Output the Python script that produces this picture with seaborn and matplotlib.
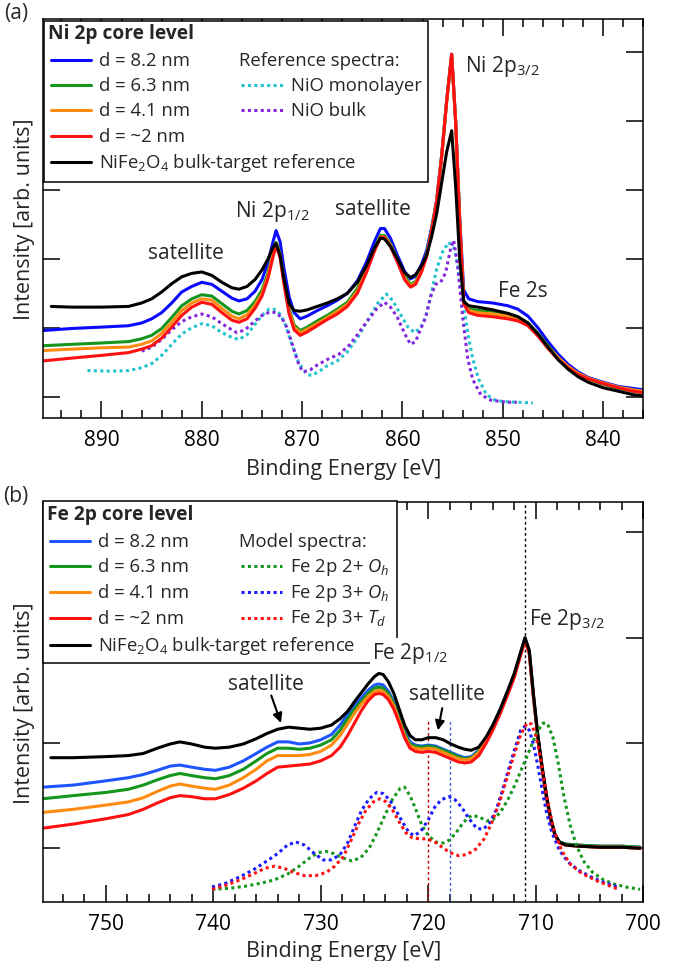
import matplotlib
matplotlib.use("Agg")
import matplotlib.pyplot as plt
from matplotlib.lines import Line2D
from matplotlib.patches import Rectangle
from matplotlib.ticker import MultipleLocator, NullFormatter
import seaborn as sns

# ---------------- data: panel (a) Ni 2p ----------------
ni_E = [895.8, 893, 890, 887.3, 886, 885, 884, 883, 882, 881, 880, 879, 878, 877, 876.3,
        875.5, 874.7, 874, 873.4, 872.9, 872.6, 872.2, 871.8, 871.3, 870.8, 870.2, 869.5,
        868.5, 867.5, 866.5, 865.5, 864.5, 863.6, 862.8, 862.2, 861.8, 861.2, 860.5,
        859.8, 859.2, 858.7, 858.1, 857.6, 857.1, 856.6, 856.1, 855.6, 855.1, 854.7,
        854.3, 853.9, 853.4, 852.5, 851, 849.5, 848.5, 847.5, 846.5, 845.5, 844.5, 843.5,
        842.5, 841.5, 840, 838.5, 837, 836]
ni_82 = [0.96, 0.99, 1.01, 1.03, 1.07, 1.13, 1.22, 1.36, 1.52, 1.60, 1.66, 1.63, 1.53,
         1.43, 1.39, 1.42, 1.53, 1.70, 1.95, 2.25, 2.41, 2.25, 1.85, 1.45, 1.22, 1.13,
         1.17, 1.25, 1.32, 1.40, 1.50, 1.68, 1.95, 2.25, 2.44, 2.44, 2.30, 2.05, 1.82,
         1.71, 1.75, 1.92, 2.12, 2.45, 2.85, 3.50, 4.30, 4.97, 4.00, 2.60, 1.55, 1.42,
         1.38, 1.36, 1.32, 1.27, 1.17, 1.00, 0.80, 0.62, 0.47, 0.36, 0.28, 0.21, 0.15,
         0.12, 0.10]
ni_63 = [0.74, 0.76, 0.78, 0.80, 0.84, 0.89, 0.99, 1.15, 1.32, 1.42, 1.48, 1.46, 1.35,
         1.24, 1.20, 1.25, 1.38, 1.55, 1.80, 2.10, 2.24, 2.08, 1.68, 1.28, 1.04, 0.96,
         1.01, 1.10, 1.18, 1.27, 1.37, 1.57, 1.85, 2.15, 2.34, 2.34, 2.22, 2.00, 1.75,
         1.63, 1.67, 1.85, 2.07, 2.42, 2.83, 3.48, 4.28, 4.95, 3.98, 2.55, 1.40, 1.28,
         1.25, 1.24, 1.20, 1.16, 1.07, 0.92, 0.74, 0.57, 0.43, 0.33, 0.26, 0.18, 0.12,
         0.08, 0.06]
ni_41 = [0.67, 0.69, 0.71, 0.72, 0.76, 0.81, 0.92, 1.08, 1.25, 1.36, 1.42, 1.40, 1.28,
         1.17, 1.13, 1.19, 1.33, 1.50, 1.76, 2.07, 2.22, 2.05, 1.65, 1.24, 1.01, 0.93,
         0.98, 1.06, 1.15, 1.24, 1.34, 1.53, 1.82, 2.13, 2.32, 2.32, 2.20, 1.97, 1.72,
         1.61, 1.65, 1.83, 2.05, 2.41, 2.83, 3.48, 4.28, 4.96, 3.98, 2.55, 1.38, 1.25,
         1.22, 1.20, 1.17, 1.13, 1.05, 0.90, 0.72, 0.57, 0.44, 0.34, 0.27, 0.20, 0.14,
         0.10, 0.08]
ni_2 = [0.52, 0.56, 0.60, 0.64, 0.69, 0.74, 0.85, 1.01, 1.18, 1.30, 1.37, 1.34, 1.22,
        1.11, 1.08, 1.13, 1.28, 1.46, 1.72, 2.03, 2.19, 2.02, 1.62, 1.20, 0.97, 0.89,
        0.94, 1.03, 1.12, 1.20, 1.31, 1.50, 1.80, 2.11, 2.31, 2.31, 2.18, 1.95, 1.70,
        1.59, 1.63, 1.81, 2.03, 2.40, 2.83, 3.48, 4.28, 4.97, 3.98, 2.55, 1.35, 1.22,
        1.18, 1.16, 1.13, 1.10, 1.03, 0.88, 0.70, 0.54, 0.42, 0.32, 0.26, 0.19, 0.13,
        0.08, 0.06]
ni_ref_E = [895.0] + ni_E[1:]
ni_ref = [1.31, 1.30, 1.30, 1.31, 1.36, 1.42, 1.52, 1.64, 1.74, 1.79, 1.81, 1.76, 1.66,
          1.58, 1.56, 1.60, 1.70, 1.84, 2.00, 2.17, 2.22, 2.05, 1.70, 1.35, 1.25, 1.24,
          1.26, 1.31, 1.36, 1.42, 1.50, 1.66, 1.90, 2.16, 2.30, 2.29, 2.18, 2.00, 1.80,
          1.73, 1.77, 1.90, 2.05, 2.32, 2.65, 3.10, 3.55, 3.86, 3.05, 2.00, 1.38, 1.32,
          1.30, 1.26, 1.21, 1.16, 1.07, 0.91, 0.72, 0.54, 0.40, 0.29, 0.21, 0.13, 0.08,
          0.03, 0.01]
nio_ml_E = [891.4, 889, 887.3, 886, 885, 884, 883, 882, 881, 880, 879, 878, 877, 876.3,
            875.5, 874.7, 874, 873.3, 872.8, 872.2, 871.7, 871.0, 870.3, 869.5, 869.0,
            868.2, 867.5, 866.5, 865.5, 864.5, 863.5, 862.5, 861.6, 861.0, 860.3, 859.5,
            858.8, 858.2, 857.7, 857.2, 856.6, 856.0, 855.4, 854.8, 854.4, 853.9, 853.4,
            853.0, 852.4, 851.7, 851.0, 850.0, 848.5, 847.0]
nio_ml = [0.38, 0.37, 0.38, 0.42, 0.48, 0.60, 0.76, 0.91, 1.00, 1.06, 1.03, 0.93, 0.86,
          0.83, 0.90, 1.05, 1.18, 1.27, 1.27, 1.20, 1.05, 0.75, 0.48, 0.32, 0.31, 0.38,
          0.45, 0.52, 0.65, 0.85, 1.10, 1.35, 1.49, 1.40, 1.22, 1.02, 0.93, 1.00, 1.15,
          1.45, 1.85, 2.10, 2.24, 2.14, 1.80, 1.30, 0.85, 0.55, 0.25, 0.05, -0.04, -0.07,
          -0.08, -0.09]
nio_bulk_E = [886.0, 885, 884, 883, 882, 881, 880, 879, 878, 877, 876.5, 875.7, 874.7,
              874, 873.2, 872.6, 872.0, 871.5, 870.9, 870.3, 869.9, 869.2, 868.5, 867.5,
              866.3, 865.3, 864.5, 863.6, 862.6, 861.8, 861.2, 860.5, 859.8, 859.2, 858.7,
              858.2, 857.7, 857.2, 856.7, 856.2, 855.7, 855.2, 854.9, 854.5, 854.0, 853.5,
              853.0, 852.2, 851.2, 849.6, 848.6]
nio_bulk = [0.66, 0.72, 0.83, 0.97, 1.09, 1.16, 1.20, 1.16, 1.06, 0.97, 0.93, 0.97, 1.10,
            1.18, 1.23, 1.22, 1.14, 1.00, 0.72, 0.45, 0.36, 0.39, 0.46, 0.54, 0.62, 0.75,
            0.90, 1.08, 1.27, 1.37, 1.30, 1.15, 0.92, 0.76, 0.80, 0.98, 1.15, 1.45, 1.63,
            1.66, 1.80, 2.15, 2.27, 1.90, 1.15, 0.55, 0.25, 0.03, -0.05, -0.08, -0.08]

# ---------------- data: panel (b) Fe 2p ----------------
fe_E = [755.9, 753, 750, 747.9, 746.5, 745.2, 744, 743.1, 742, 740.8, 739.8, 738.5, 737.2,
        736, 735, 734, 733, 732, 731, 730, 729, 728.2, 727.5, 726.8, 726.2, 725.6, 725,
        724.6, 724.2, 723.7, 723.2, 722.7, 722.2, 721.7, 721.2, 720.6, 720, 719.3, 718.6,
        717.9, 717.2, 716.6, 716, 715.3, 714.6, 714, 713.3, 712.6, 712, 711.5, 711.0,
        710.6, 710.2, 709.8, 709.4, 709, 708.6, 708.2, 707.8, 707.2, 706, 704, 702, 700.3]
fe_82 = [0.58, 0.60, 0.64, 0.67, 0.70, 0.74, 0.78, 0.79, 0.77, 0.75, 0.74, 0.77, 0.83,
         0.90, 0.96, 1.01, 1.01, 0.99, 1.00, 1.03, 1.08, 1.17, 1.27, 1.36, 1.43, 1.50,
         1.55, 1.56, 1.55, 1.49, 1.39, 1.25, 1.11, 1.01, 0.98, 0.97, 0.98, 0.97, 0.94,
         0.91, 0.88, 0.86, 0.87, 0.93, 1.04, 1.16, 1.32, 1.49, 1.65, 1.82, 1.99, 1.85,
         1.42, 1.05, 0.75, 0.48, 0.26, 0.12, 0.06, 0.04, 0.03, 0.02, 0.02, 0.01]
fe_63 = [0.47, 0.50, 0.53, 0.56, 0.60, 0.65, 0.69, 0.71, 0.69, 0.67, 0.66, 0.69, 0.75,
         0.83, 0.90, 0.95, 0.95, 0.94, 0.95, 0.98, 1.03, 1.12, 1.23, 1.33, 1.40, 1.47,
         1.52, 1.53, 1.52, 1.47, 1.37, 1.23, 1.09, 0.99, 0.97, 0.96, 0.97, 0.96, 0.93,
         0.90, 0.87, 0.85, 0.86, 0.92, 1.04, 1.16, 1.32, 1.49, 1.65, 1.82, 1.99, 1.85,
         1.42, 1.05, 0.75, 0.48, 0.26, 0.12, 0.06, 0.04, 0.03, 0.02, 0.02, 0.01]
fe_41 = [0.34, 0.37, 0.41, 0.44, 0.48, 0.54, 0.59, 0.61, 0.59, 0.57, 0.56, 0.60, 0.67,
         0.75, 0.83, 0.88, 0.88, 0.88, 0.89, 0.92, 0.98, 1.07, 1.18, 1.29, 1.37, 1.44,
         1.49, 1.50, 1.49, 1.44, 1.35, 1.21, 1.07, 0.97, 0.95, 0.94, 0.95, 0.94, 0.91,
         0.88, 0.85, 0.84, 0.85, 0.91, 1.03, 1.15, 1.31, 1.48, 1.65, 1.82, 1.99, 1.85,
         1.42, 1.05, 0.75, 0.48, 0.26, 0.12, 0.05, 0.03, 0.02, 0.01, 0.01, 0.00]
fe_2 = [0.19, 0.23, 0.28, 0.32, 0.37, 0.43, 0.48, 0.50, 0.49, 0.47, 0.47, 0.51, 0.57,
        0.64, 0.71, 0.77, 0.78, 0.79, 0.80, 0.83, 0.88, 0.96, 1.07, 1.20, 1.31, 1.40,
        1.46, 1.47, 1.46, 1.41, 1.32, 1.19, 1.05, 0.95, 0.92, 0.91, 0.92, 0.91, 0.88,
        0.85, 0.82, 0.81, 0.82, 0.88, 1.00, 1.12, 1.28, 1.46, 1.62, 1.80, 1.97, 1.85,
        1.42, 1.05, 0.75, 0.48, 0.26, 0.12, 0.05, 0.03, 0.02, 0.01, 0.01, 0.00]
fe_ref_E = [755.1] + fe_E[1:]
fe_ref = [0.86, 0.86, 0.87, 0.88, 0.90, 0.95, 0.99, 1.01, 0.99, 0.96, 0.95, 0.96, 0.99,
          1.04, 1.09, 1.13, 1.15, 1.14, 1.13, 1.14, 1.17, 1.23, 1.30, 1.40, 1.48, 1.56,
          1.63, 1.66, 1.65, 1.58, 1.47, 1.32, 1.17, 1.07, 1.03, 1.03, 1.05, 1.05, 1.03,
          0.99, 0.96, 0.94, 0.93, 0.96, 1.06, 1.17, 1.32, 1.50, 1.66, 1.83, 2.00, 1.88,
          1.45, 1.07, 0.77, 0.50, 0.28, 0.13, 0.06, 0.03, 0.02, 0.01, 0.01, 0.00]
m2oh_E = [740.1, 738.5, 737, 735.5, 734.3, 733, 732, 731, 730.2, 729.5, 728.8, 728, 727.1,
          726.3, 725.5, 724.8, 724.0, 723.3, 722.6, 722.2, 721.7, 721.2, 720.6, 720.0,
          719.3, 718.6, 718.0, 717.4, 716.7, 716.0, 715.3, 714.6, 714.0, 713.3, 712.6,
          711.9, 711.2, 710.5, 709.9, 709.3, 708.9, 708.4, 707.9, 707.4, 706.8, 706.2,
          705.5, 704.7, 703.7, 702.7, 701.5, 700.3]
m2oh = [-0.39, -0.38, -0.36, -0.33, -0.30, -0.24, -0.17, -0.09, -0.04, -0.03, -0.05,
        -0.09, -0.12, -0.09, 0.00, 0.14, 0.32, 0.47, 0.57, 0.58, 0.50, 0.38, 0.22, 0.12,
        0.06, 0.05, 0.08, 0.15, 0.25, 0.31, 0.30, 0.26, 0.27, 0.34, 0.46, 0.61, 0.78,
        0.95, 1.10, 1.19, 1.18, 1.05, 0.80, 0.50, 0.22, 0.02, -0.13, -0.23, -0.30, -0.34,
        -0.37, -0.39]
m3oh_E = [740.1, 738.8, 737.5, 736.2, 735, 734.0, 733.1, 732.3, 731.5, 730.7, 729.8, 729.0,
          728.2, 727.5, 726.8, 726.2, 725.5, 724.8, 724.2, 723.6, 723.0, 722.4, 721.8,
          721.3, 720.7, 720.0, 719.4, 718.8, 718.1, 717.5, 716.9, 716.2, 715.5, 714.9,
          714.3, 713.7, 713.1, 712.5, 711.9, 711.4, 711.0, 710.6, 710.2, 709.8, 709.4,
          709.0, 708.5, 707.8, 707.0, 706.0, 704.7, 703.5, 702.3]
m3oh = [-0.37, -0.33, -0.27, -0.20, -0.12, -0.05, 0.03, 0.06, 0.03, -0.04, -0.11, -0.11,
        -0.06, 0.05, 0.22, 0.36, 0.47, 0.53, 0.52, 0.46, 0.36, 0.25, 0.15, 0.12, 0.16,
        0.27, 0.39, 0.46, 0.49, 0.46, 0.39, 0.28, 0.19, 0.18, 0.24, 0.36, 0.55, 0.76,
        0.96, 1.12, 1.16, 1.12, 0.98, 0.78, 0.55, 0.34, 0.15, -0.02, -0.13, -0.21, -0.28,
        -0.33, -0.37]
m3td_E = [740.1, 738.8, 737.5, 736.2, 735.2, 734.3, 733.4, 732.5, 731.5, 730.5, 729.5,
          728.7, 727.9, 727.2, 726.5, 725.8, 725.1, 724.5, 723.9, 723.3, 722.7, 722.1,
          721.5, 720.8, 720.1, 719.4, 718.7, 718.0, 717.2, 716.4, 715.6, 714.8, 714.1,
          713.4, 712.7, 712.0, 711.4, 710.8, 710.4, 710.0, 709.6, 709.2, 708.8, 708.3,
          707.6, 706.8, 705.7, 704.3, 702.3]
m3td = [-0.39, -0.35, -0.30, -0.24, -0.19, -0.17, -0.19, -0.23, -0.26, -0.26, -0.23,
        -0.17, -0.08, 0.07, 0.23, 0.36, 0.44, 0.47, 0.44, 0.36, 0.25, 0.15, 0.10, 0.09,
        0.09, 0.06, 0.01, -0.04, -0.07, -0.06, -0.01, 0.09, 0.24, 0.43, 0.66, 0.89, 1.08,
        1.19, 1.18, 1.07, 0.88, 0.63, 0.40, 0.17, -0.02, -0.15, -0.24, -0.31, -0.39]

# marker energies
sat_marks_E = [720.0, 718.0]
sat_marks_top = 1.21
p32_mark_E = 711.0

sample_labels = ["d = 8.2 nm", "d = 6.3 nm", "d = 4.1 nm", "d = ~2 nm",
                 r"NiFe$_{\mathrm{2}}$O$_{\mathrm{4}}$ bulk-target reference"]

# ---------------- style ----------------
sns.set_style("ticks")
plt.rcParams["font.family"] = ["Open Sans", "DejaVu Sans"]
plt.rcParams["mathtext.fontset"] = "custom"
plt.rcParams["mathtext.rm"] = "Open Sans"
plt.rcParams["mathtext.it"] = "Open Sans:italic"
plt.rcParams["mathtext.bf"] = "Open Sans:bold"
plt.rcParams["axes.linewidth"] = 1.1

W, H = 676, 962
fig = plt.figure(figsize=(W / 100, H / 100), dpi=100)


def P(x, y):
    return (x / W, 1 - y / H)


LW = 2.2
DOT = (0, (1, 1.1))
c_blue_a, c_blue_b = "#0a0aff", "#1f55ff"
c_green = "#14961e"
c_orange = "#ff8c10"
c_red = "#ff1010"
c_cyan = "#22c3cc"
c_purple = "#8426e0"


def line(ax, x, y, color, ls="-"):
    sns.lineplot(x=x, y=y, ax=ax, color=color, lw=LW, linestyle=ls,
                 sort=False, estimator=None, legend=False)


def style_axes(ax, xlim, ylim, labtop):
    ax.set_xlim(*xlim)
    ax.set_ylim(*ylim)
    ax.xaxis.set_major_locator(MultipleLocator(10))
    ax.xaxis.set_minor_locator(MultipleLocator(2))
    ax.yaxis.set_major_locator(MultipleLocator(1))
    ax.yaxis.set_major_formatter(NullFormatter())
    ax.tick_params(which="both", direction="in", top=True, right=True,
                   width=1.1, colors="black")
    ax.tick_params(which="major", length=12, labelsize=15, pad=8)
    ax.tick_params(which="minor", length=6)
    ax.tick_params(axis="y", which="major", length=12, labelleft=False)
    for s in ax.spines.values():
        s.set_color("black")
        s.set_linewidth(1.1)
    ax.set_xlabel("Binding Energy [eV]", fontsize=15.5)
    ax.set_ylabel("Intensity [arb. units]", fontsize=15.5)
    ax.xaxis.set_label_coords(0.5, labtop)
    ax.xaxis.label.set_va("top")
    ax.yaxis.set_label_coords(-0.013, 0.5)


# ---------------- panel (a) ----------------
ax1 = fig.add_axes([43.3 / W, 1 - 419.3 / H, 600 / W, 399.3 / H])
line(ax1, nio_ml_E, nio_ml, c_cyan, DOT)
line(ax1, nio_bulk_E, nio_bulk, c_purple, DOT)
line(ax1, ni_E, ni_82, c_blue_a)
line(ax1, ni_E, ni_63, c_green)
line(ax1, ni_E, ni_41, c_orange)
line(ax1, ni_E, ni_2, c_red)
line(ax1, ni_ref_E, ni_ref, "black")
style_axes(ax1, (895.8, 836.0), (-0.313, 5.48), -0.1)

ann_fs = 15
ax1.text(853.8, 4.80, r"Ni 2p$_{\mathrm{3/2}}$", fontsize=ann_fs, ha="left", va="center")
ax1.text(873.0, 2.70, r"Ni 2p$_{\mathrm{1/2}}$", fontsize=ann_fs, ha="center", va="center")
ax1.text(862.9, 2.73, "satellite", fontsize=ann_fs, ha="center", va="center")
ax1.text(881.6, 2.09, "satellite", fontsize=ann_fs, ha="center", va="center")
ax1.text(848.0, 1.54, "Fe 2s", fontsize=ann_fs, ha="center", va="center")

# ---------------- panel (b) ----------------
ax2 = fig.add_axes([43.3 / W, 1 - 902.7 / H, 600 / W, 400 / H])
line(ax2, fe_E, fe_82, c_blue_b)
line(ax2, fe_E, fe_63, c_green)
line(ax2, fe_E, fe_41, c_orange)
line(ax2, fe_E, fe_2, c_red)
line(ax2, fe_ref_E, fe_ref, "black")
line(ax2, m2oh_E, m2oh, c_green, DOT)
line(ax2, m3oh_E, m3oh, "#1a1aff", DOT)
line(ax2, m3td_E, m3td, c_red, DOT)
style_axes(ax2, (755.8, 700.0), (-0.507, 3.29), -0.095)

ax2.vlines(sat_marks_E[0], -0.507, sat_marks_top, colors="#c00000", lw=1.0,
           linestyles=(0, (2, 2)), zorder=1)
ax2.vlines(sat_marks_E[1], -0.507, sat_marks_top, colors="#3a5ad0", lw=1.0,
           linestyles=(0, (2, 2)), zorder=1)
ax2.axvline(p32_mark_E, color="black", lw=1.0, ls=(0, (2, 2)), zorder=1)

ax2.text(710.64, 2.18, r"Fe 2p$_{\mathrm{3/2}}$", fontsize=ann_fs, ha="left", va="center")
fig.text(725.26, 1.86, r"Fe 2p$_{\mathrm{1/2}}$", fontsize=ann_fs, ha="left", va="center",
         transform=ax2.transData, zorder=20,
         bbox=dict(facecolor="white", edgecolor="none", pad=1.0))
ax2.text(735.1, 1.56, "satellite", fontsize=ann_fs, ha="center", va="center")
ax2.text(718.3, 1.47, "satellite", fontsize=ann_fs, ha="center", va="center")
arrow = dict(arrowstyle="-|>", color="black", lw=1.5, mutation_scale=14,
             shrinkA=0, shrinkB=0)
ax2.annotate("", xy=(733.7, 1.19), xytext=(734.6, 1.45), arrowprops=arrow)
ax2.annotate("", xy=(719.1, 1.12), xytext=(718.7, 1.33), arrowprops=arrow)

# ---------------- legends (drawn as boxes) ----------------
leg_fs = 13.3


def legend_box(x0, y0, x1, y1, title, rows, colors, hx, tx, head, sub_rows, sub_labels,
               sub_colors, hx2, tx2, ty):
    fig.add_artist(Rectangle(P(x0, y1), (x1 - x0) / W, (y1 - y0) / H,
                             transform=fig.transFigure, facecolor="white",
                             edgecolor="black", lw=1.1, zorder=10))
    fig.text(*P(x0 + 4, ty), title, fontsize=13.8, fontweight="bold",
             ha="left", va="center", zorder=11)
    for yy, lab, col in zip(rows, sample_labels, colors):
        fig.add_artist(Line2D([hx[0] / W, hx[1] / W], [1 - yy / H] * 2, color=col,
                              lw=LW, transform=fig.transFigure, zorder=11))
        fig.text(*P(tx, yy), lab, fontsize=leg_fs, ha="left", va="center", zorder=11)
    fig.text(*P(hx2[0] - 1.5, rows[0]), head, fontsize=leg_fs, ha="left", va="center",
             zorder=11)
    for yy, lab, col in zip(sub_rows, sub_labels, sub_colors):
        fig.add_artist(Line2D([hx2[0] / W, hx2[1] / W], [1 - yy / H] * 2, color=col,
                              lw=LW, ls=DOT, transform=fig.transFigure, zorder=11))
        fig.text(*P(tx2, yy), lab, fontsize=leg_fs, ha="left", va="center", zorder=11)


rows_a = [61, 86, 111, 136.7, 162.7]
legend_box(44, 21.7, 428.3, 182.7, "Ni 2p core level", rows_a,
           [c_blue_a, c_green, c_orange, c_red, "black"], (50.7, 90.7), 99,
           "Reference spectra:", rows_a[1:3], ["NiO monolayer", "NiO bulk"],
           [c_cyan, c_purple], (240.7, 282.7), 291, 34.3)

rows_b = [541.7, 567.3, 593.3, 619, 645.7]
legend_box(43.3, 502.3, 396.7, 664.3, "Fe 2p core level", rows_b,
           [c_blue_b, c_green, c_orange, c_red, "black"], (50, 90), 98.3,
           "Model spectra:", rows_b[1:4],
           [r"Fe 2p 2+ $O_h$", r"Fe 2p 3+ $O_h$", r"Fe 2p 3+ $T_d$"],
           [c_green, "#1a1aff", c_red], (240.7, 281.7), 290, 515)

fig.text(*P(16, 14), "(a)", fontsize=15, ha="center", va="center")
fig.text(*P(16, 497), "(b)", fontsize=15, ha="center", va="center")

fig.savefig("out.png", dpi=100)
